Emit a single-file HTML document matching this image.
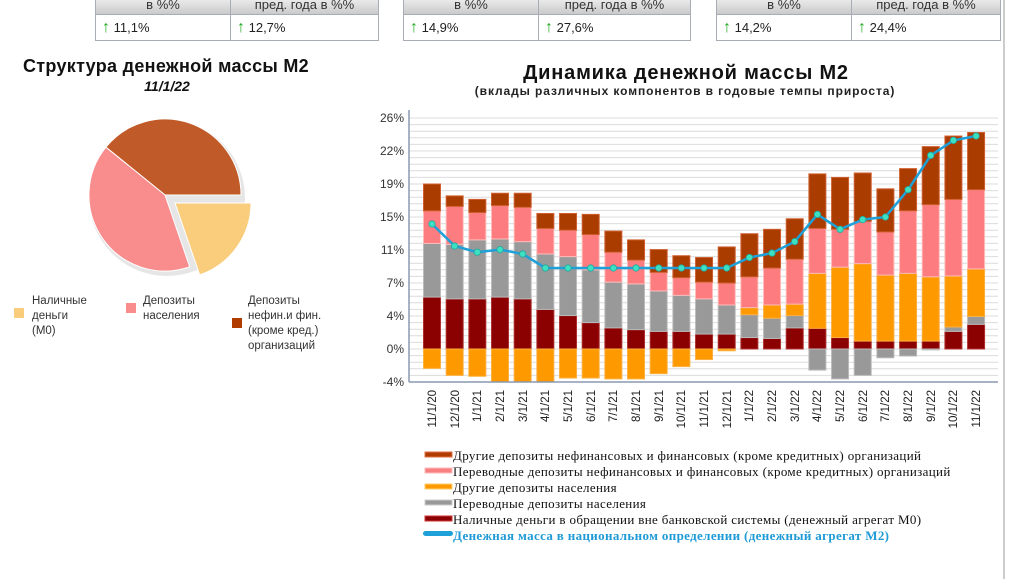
<!DOCTYPE html>
<html><head><meta charset="utf-8">
<style>
body{margin:0;width:1024px;height:579px;background:#fff;overflow:hidden;position:relative;font-family:"Liberation Sans","DejaVu Sans",sans-serif}
.tbl{position:absolute;top:-6px;border:1px solid #8a94a6;border-collapse:collapse;font-size:13px;color:#222}
.tbl td{border:1px solid #a8adb5;padding:0 6px;height:19px}
.tbl tr:first-child td{background:linear-gradient(#f4f4f4,#c9c9c9);text-align:center;color:#333}
.tbl tr:last-child td{height:25px}
.ar{color:#1fa81f;font-weight:bold;font-size:16px}
</style></head><body>
<table class="tbl" style="left:95px;width:284px"><tr><td style="width:122px">в %%</td><td>пред. года в %%</td></tr><tr><td><span class="ar">↑</span> 11,1%</td><td><span class="ar">↑</span> 12,7%</td></tr></table>
<table class="tbl" style="left:403px;width:288px"><tr><td style="width:122px">в %%</td><td>пред. года в %%</td></tr><tr><td><span class="ar">↑</span> 14,9%</td><td><span class="ar">↑</span> 27,6%</td></tr></table>
<table class="tbl" style="left:716px;width:285px"><tr><td style="width:122px">в %%</td><td>пред. года в %%</td></tr><tr><td><span class="ar">↑</span> 14,2%</td><td><span class="ar">↑</span> 24,4%</td></tr></table>
<div style="position:absolute;left:1003px;top:0;width:2px;height:579px;background:#ccc"></div>
<svg width="1024" height="579" style="position:absolute;left:0;top:0" xmlns="http://www.w3.org/2000/svg">
<text x="166" y="72" text-anchor="middle" font-size="18" font-weight="bold" fill="#111" letter-spacing="0.3">Структура денежной массы М2</text>
<text x="167" y="91" text-anchor="middle" font-size="14" font-weight="bold" font-style="italic" fill="#111">11/1/22</text>
<g id="pie"></g>
<rect x="14" y="308" width="10" height="10" fill="#f9cd7c"/>
<text font-size="11.5" fill="#333"><tspan x="32" y="304">Наличные</tspan><tspan x="32" y="319">деньги</tspan><tspan x="32" y="334">(M0)</tspan></text>
<rect x="126" y="303" width="10" height="10" fill="#f98c8c"/>
<text font-size="11.5" fill="#333"><tspan x="143" y="304">Депозиты</tspan><tspan x="143" y="319">населения</tspan></text>
<rect x="232" y="318" width="10" height="10" fill="#b03c00"/>
<text font-size="11.5" fill="#333"><tspan x="248" y="304">Депозиты</tspan><tspan x="248" y="319">нефин.и фин.</tspan><tspan x="248" y="334">(кроме кред.)</tspan><tspan x="248" y="349">организаций</tspan></text>

<text x="686" y="79" text-anchor="middle" font-size="20" font-weight="bold" fill="#111" letter-spacing="0.8">Динамика денежной массы М2</text>
<text x="685" y="95" text-anchor="middle" font-size="12" font-weight="bold" fill="#222" letter-spacing="0.9">(вклады различных компонентов в годовые темпы прироста)</text>
<g id="grid"></g>
<g id="bars"></g>
<line x1="409" y1="110" x2="409" y2="382" stroke="#8a98b0" stroke-width="1.5"/>
<line x1="409" y1="382" x2="998" y2="382" stroke="#8a98b0" stroke-width="1.5"/>
<g font-size="12" fill="#333" text-anchor="end">
<text x="404" y="122">26%</text><text x="404" y="155">22%</text><text x="404" y="188">19%</text><text x="404" y="221">15%</text><text x="404" y="254">11%</text><text x="404" y="287">7%</text><text x="404" y="320">4%</text><text x="404" y="353">0%</text><text x="404" y="386">-4%</text>
</g>
<g font-size="11.5" fill="#222" text-anchor="end" id="xl">
<text transform="translate(436,390) rotate(-90)">11/1/20</text>
<text transform="translate(459,390) rotate(-90)">12/1/20</text>
<text transform="translate(481,390) rotate(-90)">1/1/21</text>
<text transform="translate(504,390) rotate(-90)">2/1/21</text>
<text transform="translate(527,390) rotate(-90)">3/1/21</text>
<text transform="translate(549,390) rotate(-90)">4/1/21</text>
<text transform="translate(572,390) rotate(-90)">5/1/21</text>
<text transform="translate(595,390) rotate(-90)">6/1/21</text>
<text transform="translate(617,390) rotate(-90)">7/1/21</text>
<text transform="translate(640,390) rotate(-90)">8/1/21</text>
<text transform="translate(663,390) rotate(-90)">9/1/21</text>
<text transform="translate(685,390) rotate(-90)">10/1/21</text>
<text transform="translate(708,390) rotate(-90)">11/1/21</text>
<text transform="translate(731,390) rotate(-90)">12/1/21</text>
<text transform="translate(753,390) rotate(-90)">1/1/22</text>
<text transform="translate(776,390) rotate(-90)">2/1/22</text>
<text transform="translate(799,390) rotate(-90)">3/1/22</text>
<text transform="translate(821,390) rotate(-90)">4/1/22</text>
<text transform="translate(844,390) rotate(-90)">5/1/22</text>
<text transform="translate(867,390) rotate(-90)">6/1/22</text>
<text transform="translate(889,390) rotate(-90)">7/1/22</text>
<text transform="translate(912,390) rotate(-90)">8/1/22</text>
<text transform="translate(935,390) rotate(-90)">9/1/22</text>
<text transform="translate(957,390) rotate(-90)">10/1/22</text>
<text transform="translate(980,390) rotate(-90)">11/1/22</text>
</g>
<g font-family="'Liberation Serif',serif" font-size="13" fill="#111" letter-spacing="0.35">
<rect x="425" y="452" width="27" height="5" fill="#b03c00" stroke="#e07040"/><text x="453" y="460">Другие депозиты нефинансовых и финансовых (кроме кредитных)  организаций</text>
<rect x="425" y="468" width="27" height="5" fill="#f98080" stroke="#fbb"/><text x="453" y="476">Переводные депозиты нефинансовых и финансовых (кроме кредитных)  организаций</text>
<rect x="425" y="484" width="27" height="5" fill="#ff9900" stroke="#fc6"/><text x="453" y="492">Другие депозиты населения</text>
<rect x="425" y="500" width="27" height="5" fill="#999" stroke="#ccc"/><text x="453" y="508">Переводные депозиты населения</text>
<rect x="425" y="516" width="27" height="5" fill="#8b0000" stroke="#c33"/><text x="453" y="524">Наличные деньги в обращении вне банковской системы (денежный агрегат М0)</text>
<rect x="423" y="531" width="30" height="5" rx="2.5" fill="#1ea0d8"/><text x="453" y="540" fill="#1e9ad6" font-weight="bold">Денежная масса в национальном  определении  (денежный агрегат  М2)</text>
</g>
<g id="line"></g>
</svg>
<script>
var ns="http://www.w3.org/2000/svg";
function el(p,t,a){var e=document.createElementNS(ns,t);for(var k in a)e.setAttribute(k,a[k]);document.getElementById(p).appendChild(e);return e;}
var cx=165,cy=195,r=76;
function pt(a,R,ox,oy){a=a*Math.PI/180;return (cx+ox+R*Math.cos(a)).toFixed(1)+","+(cy+oy+R*Math.sin(a)).toFixed(1);}
function slice(a1,a2,col,ox,oy){var large=(a2-a1)>180?1:0;el("pie","path",{d:"M"+(cx+ox)+","+(cy+oy)+" L"+pt(a1,r,ox,oy)+" A"+r+","+r+" 0 "+large+" 1 "+pt(a2,r,ox,oy)+" Z",fill:col,stroke:"#fff","stroke-width":"1"});}
el("pie","circle",{cx:cx+2,cy:cy+3,r:r+2,fill:"#e6e6e6"});
slice(-141,0,"#c05a28",0,0);
slice(71,219,"#f98c8c",0,0);
slice(0,71,"#f9cd7c",10,8);
var Y=function(v){return 349-8.8*v;};
for(var i=0;i<=40;i++){var y=118+i*6.6;el("grid","line",{x1:409,x2:998,y1:y,y2:y,stroke:"#dcdcdc","stroke-width":1});}
var C={D:"#8b0000",G:"#999999",O:"#ff9900",P:"#fc7c80",B:"#aa3c00"};
var S={D:"#b03030",G:"#bbb",O:"#fbb040",P:"#fbb",B:"#d06030"};
var data=[
[[["D",5.9],["G",12.0],["P",15.7],["B",18.75]],["O",-2.2],14.2],
[[["D",5.7],["G",11.9],["P",16.2],["B",17.4]],["O",-3.0],11.7],
[[["D",5.7],["G",12.4],["P",15.5],["B",17.0]],["O",-3.1],11.0],
[[["D",5.9],["G",12.5],["P",16.3],["B",17.7]],["O",-3.75],11.3],
[[["D",5.7],["G",12.2],["P",16.1],["B",17.7]],["O",-3.75],10.8],
[[["D",4.5],["G",10.8],["P",13.7],["B",15.4]],["O",-3.75],9.2],
[[["D",3.8],["G",10.5],["P",13.5],["B",15.4]],["O",-3.3],9.2],
[[["D",3.0],["G",9.0],["P",13.0],["B",15.3]],["O",-3.3],9.2],
[[["D",2.4],["G",7.6],["P",11.0],["B",13.4]],["O",-3.4],9.2],
[[["D",2.2],["G",7.4],["P",10.1],["B",12.4]],["O",-3.4],9.2],
[[["D",2.0],["G",6.6],["P",8.7],["B",11.3]],["O",-2.8],9.2],
[[["D",2.0],["G",6.1],["P",8.1],["B",10.6]],["O",-2.0],9.2],
[[["D",1.7],["G",5.7],["P",7.6],["B",10.4]],["O",-1.2],9.2],
[[["D",1.7],["G",5.0],["P",7.5],["B",11.6]],["O",-0.2],9.2],
[[["D",1.3],["G",3.9],["O",4.7],["P",8.2],["B",13.1]],null,10.4],
[[["D",1.2],["G",3.5],["O",5.0],["P",9.2],["B",13.6]],null,10.9],
[[["D",2.4],["G",3.8],["O",5.1],["P",10.2],["B",14.8]],null,12.2],
[[["D",2.35],["O",8.6],["P",13.7],["B",19.9]],["G",-2.4],15.3],
[[["D",1.3],["O",9.3],["P",13.6],["B",19.5]],["G",-3.4],13.6],
[[["D",0.9],["O",9.7],["P",14.5],["B",20.0]],["G",-3.0],14.7],
[[["D",0.9],["O",8.4],["P",13.3],["B",18.2]],["G",-1.0],15.0],
[[["D",0.9],["O",8.6],["P",15.7],["B",20.5]],["G",-0.8],18.1],
[[["D",0.9],["O",8.2],["P",16.4],["B",23.0]],["G",-0.1],22.0],
[[["D",2.0],["G",2.5],["O",8.3],["P",17.0],["B",24.2]],null,23.7],
[[["D",2.8],["G",3.7],["O",9.1],["P",18.1],["B",24.6]],null,24.2]];
var pts=[];
data.forEach(function(d,i){var xc=432+i*22.67,w=17,x=xc-w/2;var prev=0;
 d[0].forEach(function(s){el("bars","rect",{x:x,y:Y(s[1]),width:w,height:Y(prev)-Y(s[1]),fill:C[s[0]],stroke:S[s[0]],"stroke-width":1});prev=s[1];});
 if(d[1]){el("bars","rect",{x:x,y:Y(0),width:w,height:Y(d[1][1])-Y(0),fill:C[d[1][0]],stroke:S[d[1][0]],"stroke-width":1});}
 pts.push(xc.toFixed(1)+","+Y(d[2]).toFixed(1));});
el("line","polyline",{points:pts.join(" "),fill:"none",stroke:"#1ea0d8","stroke-width":2.5});
pts.forEach(function(p){var a=p.split(",");el("line","circle",{cx:a[0],cy:a[1],r:3.2,fill:"#3de0c0",stroke:"#20a8a0","stroke-width":0.8});});
</script>
</body></html>
